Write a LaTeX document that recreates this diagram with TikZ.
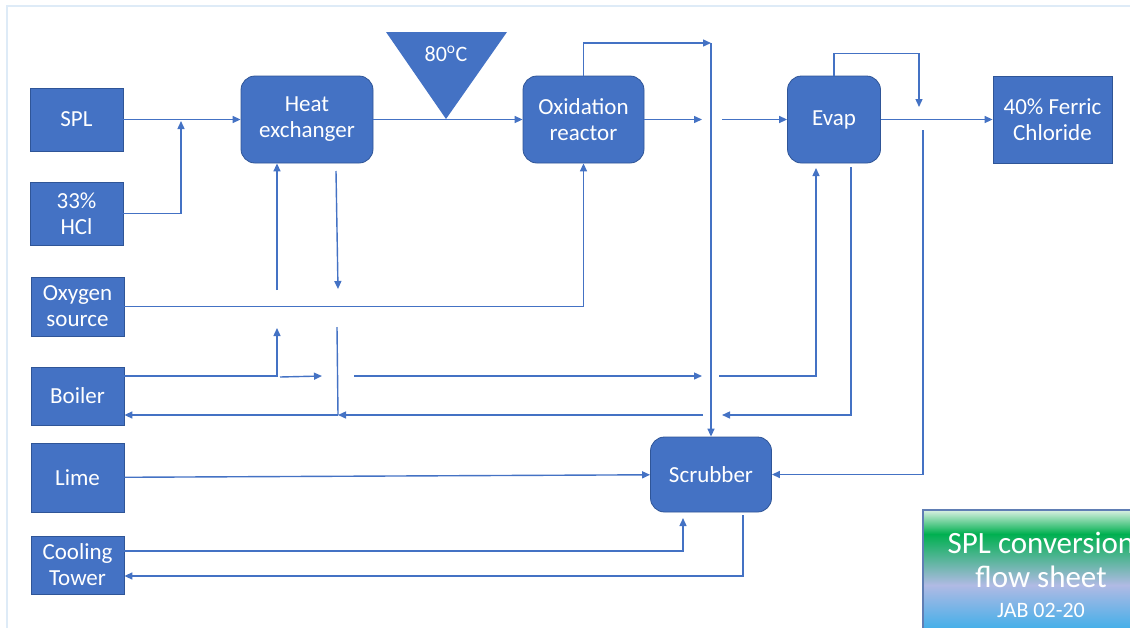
\documentclass[tikz,border=0pt]{standalone}
\usepackage{fontspec}
\setmainfont{Carlito}
\usetikzlibrary{arrows.meta, positioning, calc}
\definecolor{boxblue}{RGB}{68, 114, 196}
\definecolor{boxedge}{RGB}{47, 85, 151}
\definecolor{pipeblue}{RGB}{68, 114, 196}
\definecolor{framelight}{RGB}{222, 235, 247}
\definecolor{titlegreen}{RGB}{0, 176, 80}
\definecolor{titlepale}{RGB}{218, 240, 226}
\definecolor{titlelilac}{RGB}{176, 186, 228}
\definecolor{titlesky}{RGB}{40, 172, 234}
\definecolor{titleedge}{RGB}{96, 126, 180}
\tikzset{
  >=Triangle,
  feedbox/.style={draw=boxedge, fill=boxblue, text=white, line width=0.8pt, minimum width=93pt, minimum height=63pt, align=center, inner sep=2pt, font=\fontsize{23}{26}\selectfont},
  unitbox/.style={feedbox, rounded corners=14pt},
  pipe/.style={-{Triangle[length=8pt, width=7pt]}, line width=1.4pt, pipeblue},
  pipeline/.style={line width=1.4pt, pipeblue},
  titletext/.style={anchor=base, text=white, font=\fontsize{31}{34}\selectfont}
}

\begin{document}
\begin{tikzpicture}[x=1pt, y=-1pt]
    \useasboundingbox (0,0) rectangle (1130,627);
    \draw[framelight, line width=2pt] (7,640) -- (7,6) -- (1140,6);

    \node (spl) [feedbox] at (76.5,119.5) {SPL};
    \node (hcl) [feedbox] at (76.5,213.5) {33\%\\HCl};
    \node (oxy) [feedbox, minimum height=59pt] at (77.5,306.5) {Oxygen\\source};
    \node (boiler) [feedbox, minimum height=58pt] at (77.5,396) {Boiler};
    \node (lime) [feedbox, minimum height=69pt] at (77.5,477.5) {Lime};
    \node (cool) [feedbox, minimum height=58pt] at (77.5,565) {Cooling\\Tower};
    \node (hx) [unitbox, minimum width=132pt, minimum height=87pt] at (307,119.5) {Heat\\exchanger};
    \node (oxr) [unitbox, minimum width=121pt, minimum height=87pt] at (583.5,119.5) {Oxidation\\reactor};
    \node (evap) [unitbox, minimum height=87pt] at (834,119.5) {Evap};
    \node (fecl) [feedbox, minimum width=119pt, minimum height=87pt] at (1052.5,119.5) {40\% Ferric\\Chloride};
    \node (scrub) [unitbox, minimum width=121pt, minimum height=75pt] at (711,474.5) {Scrubber};

    % temperature marker
    \fill[boxblue] (386,32) -- (507,32) -- (446,119) -- cycle;
    \node (temp) [text=white, font=\fontsize{22}{24}\selectfont] at (446,54) {80\textsuperscript{o}C};

    % feed side
    \coordinate (hclj) at (181,121);
    \draw[pipe] (spl) -- (hx);
    \draw[pipe] (hcl.east) -| (hclj);
    \draw[pipe] (hx) -- (oxr);

    % off-gas and liquor
    \coordinate (ogtop) at (711,43);
    \draw[pipe] (oxr.north) |- (ogtop);
    \draw[pipe] (ogtop) -- (scrub);
    \coordinate (lq1) at (702,119.5);
    \coordinate (lq2) at (722,119.5);
    \draw[pipe] (oxr) -- (lq1);
    \draw[pipe] (lq2) -- (evap);
    \coordinate (vapret) at (919,107);
    \draw[pipe] (evap.north) -- ++(0,-22) -| (vapret);
    \draw[pipe] (evap) -- (fecl);
    \coordinate (bleed) at (923,130);
    \draw[pipe] (bleed) |- (scrub.east);

    % heat exchanger utilities
    \coordinate (hxin) at (277,290);
    \coordinate (hxc1) at (336,171);
    \coordinate (hxc2) at (338,289);
    \draw[pipe] (hxin) -- (hxin |- hx.south);
    \draw[pipe] (hxc1) -- (hxc2);
    \draw[pipe] (oxy.east) -| (oxr.south);

    % steam
    \coordinate (st1) at (277,328);
    \coordinate (st2) at (280,377);
    \coordinate (st3) at (322,376);
    \coordinate (st4) at (354,376);
    \coordinate (st5) at (702,376);
    \coordinate (st6) at (719,376);
    \coordinate (st7) at (816,168);
    \draw[pipe] ([yshift=20pt]boiler.east) -| (st1);
    \draw[pipe] (st2) -- (st3);
    \draw[pipe] (st4) -- (st5);
    \draw[pipe] (st6) -| (st7);

    % condensate
    \coordinate (cd1) at (851,167);
    \coordinate (cd2) at (722,415);
    \coordinate (cd3) at (703,415);
    \coordinate (cd4) at (338,415);
    \coordinate (cd5) at (337,327);
    \draw[pipe] (cd1) |- (cd2);
    \draw[pipe] (cd3) -- (cd4);
    \draw[pipeline] (cd5) -- (cd4);
    \draw[pipe] (cd4) -- (cd4 -| boiler.east);

    % scrubber
    \coordinate (cw1) at (683,518);
    \coordinate (cw2) at (743,515);
    \draw[pipe] (lime) -- (scrub);
    \draw[pipe] ([yshift=14pt]cool.east) -| (cw1);
    \draw[pipe] (cw2) |- ([yshift=-11pt]cool.east);

    % title block
    \shade[top color=titlepale, bottom color=titlegreen] (923,510) rectangle (1160,534);
    \shade[top color=titlegreen, bottom color=titlelilac] (923,534) rectangle (1160,585);
    \shade[top color=titlelilac, bottom color=titlesky] (923,585) rectangle (1160,640);
    \draw[titleedge, line width=1.5pt] (923,640) -- (923,510) -- (1160,510);
    \node (ttl1) [titletext] at (1041,553) {SPL conversion};
    \node (ttl2) [titletext] at (1041,587) {flow sheet};
    \node (ttl3) [titletext, font=\fontsize{22}{24}\selectfont] at (1041,617) {JAB 02-20};
\end{tikzpicture}
\end{document}
